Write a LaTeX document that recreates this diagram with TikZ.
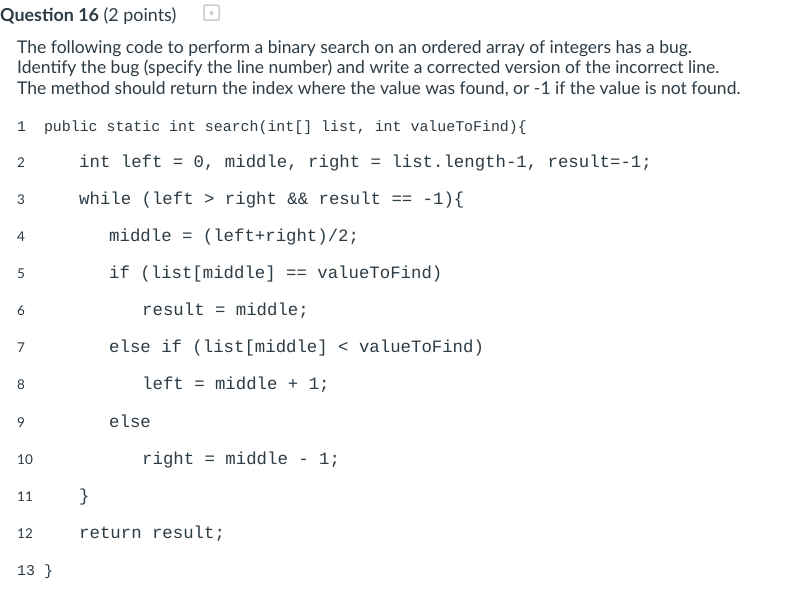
\documentclass[tikz,border=0pt]{standalone}
\usepackage{fontspec}
\setmainfont{Lato}
\setmonofont{Liberation Mono}
\definecolor{txt}{HTML}{2D3B45}
\definecolor{icon}{HTML}{C7CDD1}
\begin{document}
\begin{tikzpicture}[x=1pt,y=-1pt,
  every node/.style={inner sep=0pt,anchor=base west,text=txt},
  body/.style={font=\fontsize{17.5}{20}\selectfont},
  code/.style={font=\fontsize{14.9}{17}\ttfamily},
  bigcode/.style={font=\fontsize{17.35}{19}\ttfamily},
  num/.style={font=\fontsize{13.5}{16}\selectfont}]
\useasboundingbox[fill=white] (0,0) rectangle (805,592);
\node[font=\fontsize{17.9}{20}\selectfont] (title) at (0,21) {\textbf{Question 16} (2 points)};
\draw[icon,line width=1.5pt,rounded corners=1pt] (204,5) rectangle (219,20);
\fill[icon] (211.5,13) circle (2pt);
\node[body] (p1) at (17,53) {The following code to perform a binary search on an ordered array of integers has a bug.};
\node[body] (p2) at (17,73.5) {Identify the bug (specify the line number) and write a corrected version of the incorrect line.};
\node[body] (p3) at (17,94) {The method should return the index where the value was found, or -1 if the value is not found.};
\node[code] (c1) at (17,131) {1\ \ public static int search(int[] list, int valueToFind)\{};
\foreach \n/\y/\x/\t in {2/167/79/{int left = 0, middle, right = list.length-1, result=-1;},
 3/204/79/{while (left > right \&\& result == -1)\{},
 4/241/109/{middle = (left+right)/2;},
 5/278/109/{if (list[middle] == valueToFind)},
 6/315/142/{result = middle;},
 7/352/109/{else if (list[middle] < valueToFind)},
 8/389/142/{left = middle + 1;},
 9/427/109/{else},
 10/464/142/{right = middle - 1;},
 11/501/79/{\}},
 12/538/79/{return result;}}{
  \node[num] (n\n) at (17,\y) {\n};
  \node[bigcode] (l\n) at (\x,\y) {\t};
}
\node[code] (c13) at (17,575) {13 \}};
\end{tikzpicture}
\end{document}
